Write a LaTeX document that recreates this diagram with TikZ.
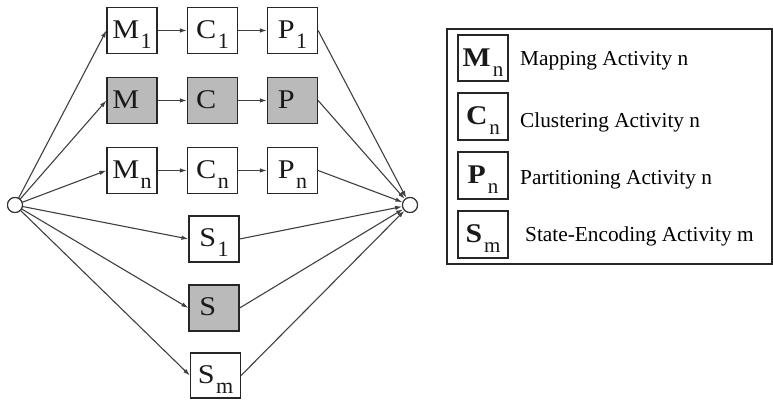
\documentclass[tikz,border=0pt]{standalone}
\usepackage{fontspec}
\setmainfont{Liberation Serif}
\usetikzlibrary{arrows.meta}
\newcommand{\actlbl}[2]{{\fontsize{27}{27}\selectfont\scalebox{1.12}[1]{#1}\hspace{1.5pt}\raisebox{-10pt}{\fontsize{22}{22}\selectfont #2}}}
\newcommand{\leglbl}[2]{{\fontsize{27}{27}\selectfont\bfseries\scalebox{1.1}[1]{#1}\hspace{2pt}\raisebox{-10pt}{\fontsize{21}{21}\selectfont\mdseries #2}}}
\tikzset{
  act/.style={draw=black!85, line width=1.2pt, minimum width=50pt, minimum height=46pt, inner sep=0pt, text height=22pt, text depth=7pt, text=black!90},
  shd/.style={act, fill=black!27},
  term/.style={circle, draw=black!80, line width=1.1pt, minimum size=15pt, inner sep=0pt, fill=white},
  arr/.style={draw=black!75, line width=1.1pt, -{Latex[length=7pt,width=4.5pt]}},
  leg/.style={anchor=base west, font=\fontsize{21.3}{21.3}\selectfont, inner sep=0pt}
}
\begin{document}
\begin{tikzpicture}[x=1pt,y=-1pt]
\useasboundingbox (0,0) rectangle (773,399);
% terminals
\node[term] (L) at (15,205) {};
\node[term] (R) at (410,205) {};
% row 1
\node[act] (M1) at (132,30.5) {\actlbl{M}{1}};
\node[act] (C1) at (212.5,30.5) {\actlbl{C}{1}};
\node[act] (P1) at (292.5,30.5) {\actlbl{P}{1}};
% row 2
\node[shd] (M) at (132,100.5) {\actlbl{M}{\phantom{1}}};
\node[shd] (C) at (212.5,100.5) {\actlbl{C}{\phantom{1}}};
\node[shd] (P) at (292.5,100.5) {\actlbl{P}{\phantom{1}}};
% row 3
\node[act] (Mn) at (132,170.5) {\actlbl{M}{n}};
\node[act] (Cn) at (212.5,170.5) {\actlbl{C}{n}};
\node[act] (Pn) at (292.5,170.5) {\actlbl{P}{n}};
% S
\node[act] (S1) at (214,239) {\actlbl{S}{1}};
\node[shd] (S) at (214,308) {\actlbl{S}{\phantom{1}}};
\node[act, minimum height=45pt] (Sm) at (215.5,375.5) {\actlbl{S}{m}};
% connectors
\foreach \n in {M1,M,Mn,S1,S,Sm} \draw[arr] (L) -- (\n.west);
\foreach \n in {P1,P,Pn,S1,S,Sm} \draw[arr] (\n.east) -- (R);
\draw[arr] (M1) -- (C1); \draw[arr] (C1) -- (P1);
\draw[arr] (M) -- (C); \draw[arr] (C) -- (P);
\draw[arr] (Mn) -- (Cn); \draw[arr] (Cn) -- (Pn);
\node[term] at (L) {};
\node[term] at (R) {};
% legend
\node[draw=black!85, line width=1.1pt, minimum width=325pt, minimum height=235pt, inner sep=0pt] (frame) at (609.5,146.5) {};
\node[act, text height=22pt, text depth=6pt] (lM) at (483,58) {\leglbl{M}{n}};
\node[act, minimum height=47pt] (lC) at (483,116.5) {\leglbl{C}{n}};
\node[act, minimum height=47pt] (lP) at (483,175.5) {\leglbl{P}{n}};
\node[act, minimum height=47pt] (lS) at (483,234.5) {\leglbl{S}{m}};
\node[leg] (tM) at (520,65) {Mapping Activity n};
\node[leg] (tC) at (520,127.5) {Clustering Activity n};
\node[leg] (tP) at (520,184) {Partitioning Activity n};
\node[leg] (tS) at (525,241.5) {State-Encoding Activity m};
\end{tikzpicture}
\end{document}
